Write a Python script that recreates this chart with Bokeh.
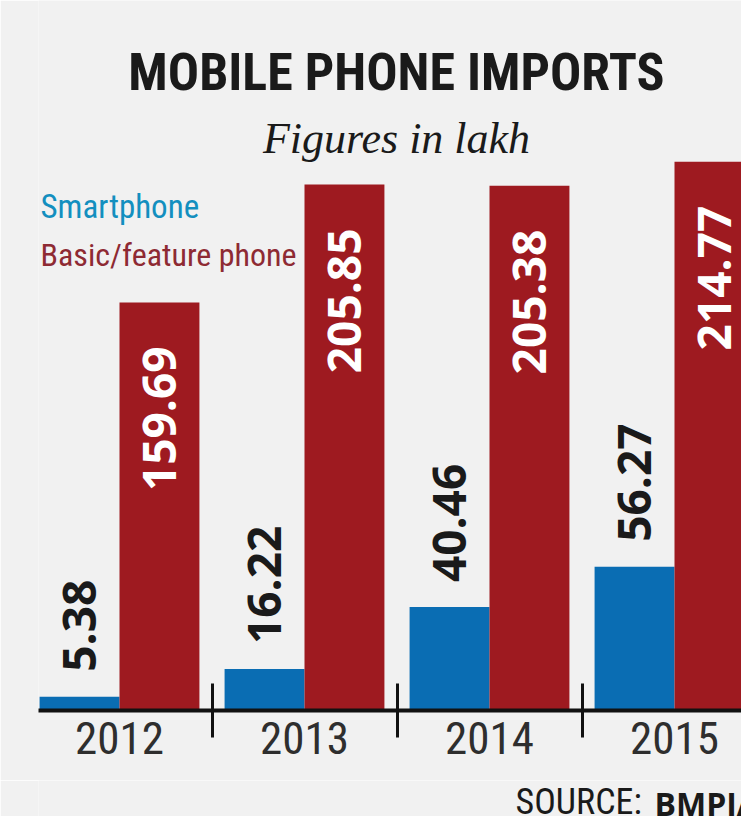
import numpy as np
from bokeh.plotting import figure
from bokeh.layouts import column
from bokeh.models import ColumnDataSource, Range1d, FixedTicker, Label, LinearAxis
from bokeh.embed import file_html
from bokeh.resources import INLINE
from bokeh.core.properties import value

# ---- data ----
years = ["2012", "2013", "2014", "2015"]
smartphone = [5.38, 16.22, 40.46, 56.27]
feature_phone = [159.69, 205.85, 205.38, 214.77]
smart_labels = ["5.38", "16.22", "40.46", "56.27"]
feature_labels = ["159.69", "205.85", "205.38", "214.77"]

title = "MOBILE PHONE IMPORTS"
subtitle = "Figures in lakh"
legend_names = ["Smartphone", "Basic/feature phone"]
source_prefix = "SOURCE:"
source_name = "BMPIA"

# ---- style ----
BG = "#f1f1f1"
BLUE = "#0a6db3"
RED = "#9e1a20"
COND = "Roboto Condensed"
BAR_W = 0.432
LEFT = 38

# reference-pixel -> data helpers (group index units, 185 px per group)
X0, PX_X = 119.0, 185.0
Y0, PX_Y = 710.0, 2.555


def dx(px):
    return (px - X0) / PX_X


def dy(py):
    return (Y0 - py) / PX_Y


W, H, FOOT = 741, 780, 36
fig = figure(width=W, height=H,
             x_range=Range1d(dx(LEFT), dx(W)), y_range=Range1d(0, dy(0)),
             output_backend="svg", toolbar_location=None,
             x_axis_location=None, y_axis_location=None,
             min_border_left=LEFT, min_border_right=0, min_border_top=0, min_border_bottom=H - 710,
             background_fill_color=BG, border_fill_color=BG, outline_line_color=None)
fig.grid.visible = False

n = len(years)
src = ColumnDataSource(dict(
    xs=[i - BAR_W / 2 for i in range(n)],
    xf=[i + BAR_W / 2 for i in range(n)],
    smart=smartphone, feature=feature_phone,
    sl=smart_labels, fl=feature_labels,
))

fig.vbar(x="xs", top="smart", bottom=0, width=BAR_W, fill_color=BLUE, line_color=None, source=src)
fig.vbar(x="xf", top="feature", bottom=0, width=BAR_W, fill_color=RED, line_color=None, source=src)

fig.text(x="xs", y="smart", text="sl", angle=np.pi / 2, text_align="left", text_baseline="middle",
         y_offset=-25, text_font=value("Open Sans"), text_font_style="bold",
         text_font_size="46px", text_color="#1a1a1a", source=src)
fig.text(x="xf", y="feature", text="fl", angle=np.pi / 2, text_align="right", text_baseline="middle",
         y_offset=44, text_font=value("Open Sans"), text_font_style="bold",
         text_font_size="46px", text_color="#ffffff", source=src)

xaxis = LinearAxis(
    ticker=FixedTicker(ticks=list(range(n)), minor_ticks=[i + 0.5 for i in range(n - 1)]),
    major_label_overrides={i: y for i, y in enumerate(years)},
    axis_line_color="#111111", axis_line_width=4,
    major_tick_line_color=None, major_tick_in=0, major_tick_out=0,
    minor_tick_line_color="#111111", minor_tick_line_width=3,
    minor_tick_in=27, minor_tick_out=27,
    major_label_text_font=COND, major_label_text_font_size="45px",
    major_label_text_color="#2e2e2e", major_label_standoff=-16,
)
fig.add_layout(xaxis, "below")


def label(target, px, py, text, size, **kw):
    # py is the wanted baseline in reference pixels; Bokeh's alphabetic box sits ~0.32em low
    target.add_layout(Label(x=dx(px), y=dy(py - 0.32 * size), text=text, text_baseline="alphabetic",
                            text_font_size=f"{size}px", **kw))


label(fig, 396, 89, title, 52, text_align="center", text_font=COND, text_font_style="bold",
      text_color="#1a1a1a")
label(fig, 396, 152, subtitle, 44, text_align="center", text_font="Liberation Serif",
      text_font_style="italic", text_color="#1a1a1a")
label(fig, 40, 217, legend_names[0], 33, text_align="left", text_font=COND, text_color="#138fbf")
label(fig, 40, 265, legend_names[1], 32, text_align="left", text_font=COND, text_color="#8e2a33")

# footer strip: data units equal reference pixels (frame aligned with the chart's frame)
foot = figure(width=W, height=FOOT, x_range=Range1d(LEFT, W), y_range=Range1d(H + FOOT, H),
              output_backend="svg", toolbar_location=None,
              x_axis_location=None, y_axis_location=None,
              min_border_left=LEFT, min_border_right=0, min_border_top=0, min_border_bottom=0,
              background_fill_color=BG, border_fill_color=BG, outline_line_color=None)
foot.grid.visible = False
foot.add_layout(Label(x=515, y=813 - 0.32 * 36, text=source_prefix, text_baseline="alphabetic",
                      text_font=COND, text_font_size="36px", text_color="#1a1a1a"))
foot.add_layout(Label(x=654, y=813 - 0.32 * 32, text=source_name, text_baseline="alphabetic",
                      text_font="Open Sans", text_font_style="bold", text_font_size="32px",
                      text_color="#1a1a1a"))

p = column(fig, foot, spacing=0)
open("out.html", "w").write(file_html(p, INLINE))
